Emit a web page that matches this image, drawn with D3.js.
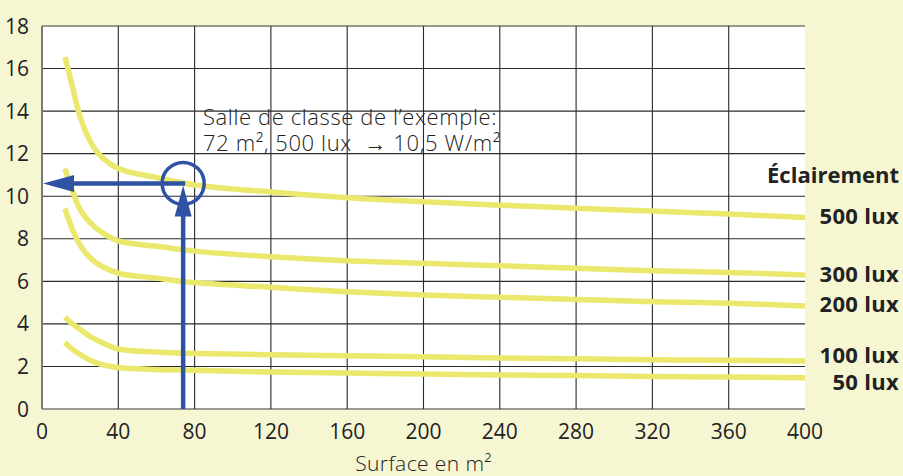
<!DOCTYPE html>
<html>
<head>
<meta charset="utf-8">
<script src="https://cdn.jsdelivr.net/npm/d3@7"></script>
<style>
  body { margin: 0; background: #f6f6d3; }
  svg { display: block; font-family: "Open Sans", sans-serif; }
</style>
</head>
<body>
<svg id="chart" width="903" height="476"></svg>
<script>
// Surface (m²) sample points shared by every curve
const surfaces = [12, 16, 20, 25, 30, 40, 60, 80, 120, 160, 200, 240, 280, 320, 360, 400];

// Specific power (W/m²) per illuminance level
const lux500 = [16.55, 15.14, 13.73, 12.63, 11.96, 11.3, 10.88, 10.53, 10.2, 9.93, 9.74, 9.58, 9.44, 9.3, 9.16, 9.0];
const lux300 = [11.31, 10.25, 9.37, 8.78, 8.39, 7.9, 7.65, 7.42, 7.16, 6.97, 6.85, 6.73, 6.62, 6.5, 6.42, 6.3];
const lux200 = [9.43, 8.43, 7.69, 7.13, 6.77, 6.38, 6.15, 5.94, 5.72, 5.51, 5.36, 5.25, 5.15, 5.04, 4.97, 4.84];
const lux100 = [4.31, 4.0, 3.74, 3.42, 3.18, 2.82, 2.68, 2.61, 2.55, 2.5, 2.45, 2.4, 2.36, 2.32, 2.29, 2.26];
const lux50  = [3.12, 2.8, 2.56, 2.3, 2.12, 1.95, 1.86, 1.82, 1.74, 1.69, 1.65, 1.6, 1.57, 1.53, 1.5, 1.47];

const seriesLabels = ["500 lux", "300 lux", "200 lux", "100 lux", "50 lux"];
const seriesValues = [lux500, lux300, lux200, lux100, lux50];

const xTicks = d3.range(0, 401, 40);
const yTicks = d3.range(0, 19, 2);

// Example reading: classroom of 72 m² at 500 lux
const examplePoint = { x: 74, y: 10.6 };
const exampleLines = ["Salle de classe de l\u2019exemple:", "72 m\u00b2, 500 lux  \u2192 10,5 W/m\u00b2"];

const margin = { top: 26, right: 98, bottom: 67, left: 42 };
const width = 903, height = 476;

const svg = d3.select("#chart");

const x = d3.scaleLinear().domain([0, 400]).range([margin.left, width - margin.right]);
const y = d3.scaleLinear().domain([0, 18]).range([height - margin.bottom, margin.top]);

/********************/
/*  Plot area/grid  */
/********************/
svg.append("rect")
  .attr("x", x(0)).attr("y", y(18))
  .attr("width", x(400) - x(0)).attr("height", y(0) - y(18))
  .attr("fill", "#ffffff");

svg.append("g").selectAll("line")
  .data(yTicks)
  .join("line")
    .attr("x1", x(0)).attr("x2", x(400))
    .attr("y1", d => y(d)).attr("y2", d => y(d))
    .attr("stroke", d => (d === 0 || d === 18) ? "#7a7a72" : "#2a2a2a")
    .attr("stroke-width", d => (d === 0 || d === 18) ? 1.6 : 1.1);

svg.append("g").selectAll("line")
  .data(xTicks.filter(d => d < 400))
  .join("line")
    .attr("x1", d => x(d)).attr("x2", d => x(d))
    .attr("y1", y(0)).attr("y2", y(18))
    .attr("stroke", d => d === 0 ? "#7a7a72" : "#2a2a2a")
    .attr("stroke-width", d => d === 0 ? 2 : 1.1);

/******************/
/*  Tick labels   */
/******************/
svg.append("g").selectAll("text")
  .data(yTicks)
  .join("text")
    .attr("x", 29)
    .attr("y", d => y(d))
    .attr("dy", "0.36em")
    .attr("text-anchor", "end")
    .attr("font-size", 21)
    .attr("fill", "#222")
    .text(d => d);

svg.append("g").selectAll("text")
  .data(xTicks)
  .join("text")
    .attr("x", d => x(d))
    .attr("y", 439)
    .attr("text-anchor", "middle")
    .attr("font-size", 21)
    .attr("fill", "#222")
    .text(d => d);

svg.append("text")
  .attr("x", (x(0) + x(400)) / 2)
  .attr("y", 471)
  .attr("text-anchor", "middle")
  .attr("font-size", 21)
  .attr("font-weight", 300)
  .attr("letter-spacing", 0.4)
  .attr("fill", "#222")
  .text("Surface en m\u00b2");

/**************/
/*  Curves    */
/**************/
const lineGenerator = d3.line()
  .x(d => x(d[0]))
  .y(d => y(d[1]))
  .curve(d3.curveCatmullRom.alpha(0.5));

svg.append("g").selectAll("path")
  .data(seriesValues)
  .join("path")
    .attr("d", vals => lineGenerator(surfaces.map((s, i) => [s, vals[i]])))
    .attr("fill", "none")
    .attr("stroke", "#ebe86e")
    .attr("stroke-width", 5.5);

/*****************************/
/*  Right-hand curve labels  */
/*****************************/
svg.append("text")
  .attr("x", 899).attr("y", 183)
  .attr("text-anchor", "end")
  .attr("font-size", 22)
  .attr("font-weight", 700)
  .attr("fill", "#222")
  .text("\u00c9clairement");

const labelY = [224, 282, 312, 363, 390];
svg.append("g").selectAll("text")
  .data(seriesLabels)
  .join("text")
    .attr("x", 899)
    .attr("y", (d, i) => labelY[i])
    .attr("text-anchor", "end")
    .attr("font-size", 22)
    .attr("font-weight", 700)
    .attr("letter-spacing", 0.3)
    .attr("fill", "#222")
    .text(d => d);

/*********************/
/*  Example reading  */
/*********************/
const blue = "#2f52a3";
const px = x(examplePoint.x), py = y(examplePoint.y);

svg.append("line")
  .attr("x1", px).attr("x2", px)
  .attr("y1", y(0)).attr("y2", py + 30)
  .attr("stroke", blue).attr("stroke-width", 4.5);

svg.append("path")
  .attr("d", `M${px},${py + 2} L${px - 8.5},${py + 33} L${px + 8.5},${py + 33} Z`)
  .attr("fill", blue);

svg.append("line")
  .attr("x1", px + 2).attr("x2", x(0) + 28)
  .attr("y1", py).attr("y2", py)
  .attr("stroke", blue).attr("stroke-width", 4.5);

svg.append("path")
  .attr("d", `M${x(0) + 1},${py} L${x(0) + 32},${py - 8.5} L${x(0) + 32},${py + 8.5} Z`)
  .attr("fill", blue);

svg.append("circle")
  .attr("cx", px).attr("cy", py).attr("r", 21)
  .attr("fill", "none")
  .attr("stroke", blue).attr("stroke-width", 3.5);

svg.append("g").selectAll("text")
  .data(exampleLines)
  .join("text")
    .attr("x", 203)
    .attr("y", (d, i) => 125 + i * 26)
    .attr("font-size", 22)
    .attr("font-weight", 300)
    .attr("letter-spacing", 0.6)
    .attr("fill", "#222")
    .attr("xml:space", "preserve")
    .style("white-space", "pre")
    .text(d => d);
</script>
</body>
</html>
